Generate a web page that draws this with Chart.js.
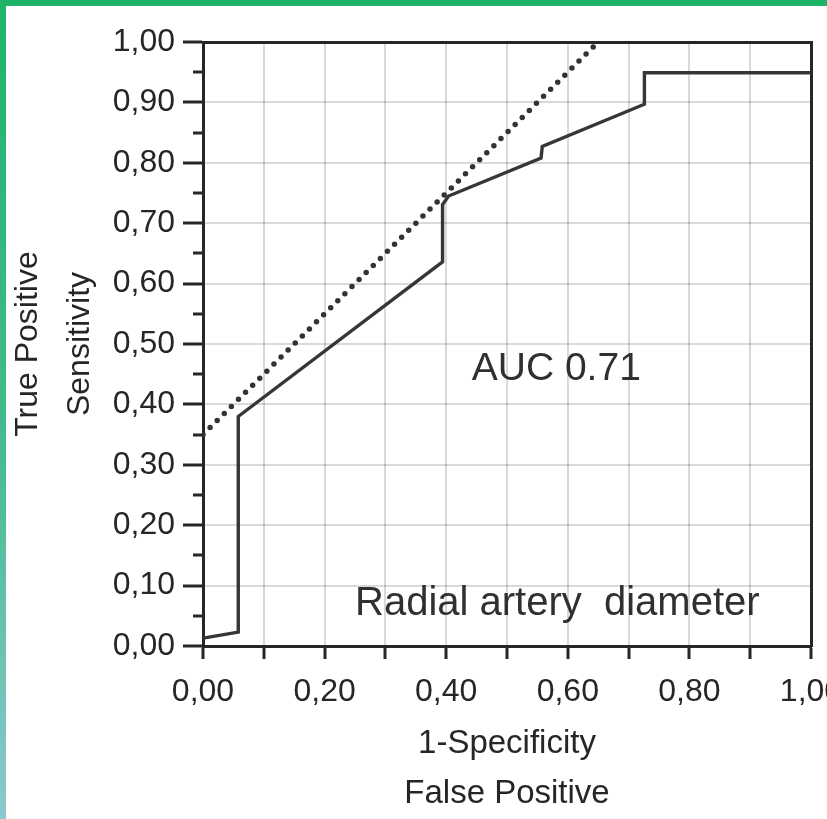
<!DOCTYPE html>
<html>
<head>
<meta charset="utf-8">
<title>ROC - Radial artery diameter</title>
<script src="https://cdn.jsdelivr.net/npm/chart.js@4.4.1/dist/chart.umd.min.js"></script>
<style>
    html, body { margin: 0; padding: 0; background: #fff; overflow: hidden; width: 827px; height: 819px; }
    #wrap { position: relative; width: 827px; height: 819px; overflow: hidden; }
    #chart { position: absolute; left: 0; top: 0; }
    .rand-oben { position: absolute; left: 0; top: 0; width: 827px; height: 6px; background: #1db46a; }
    .rand-links { position: absolute; left: 0; top: 0; width: 6px; height: 819px;
                  background: linear-gradient(#1db46a, #45bb90 55%, #8dc8d0); }
</style>
</head>
<body>
<div id="wrap">
    <canvas id="chart" width="842" height="819"></canvas>
    <div class="rand-oben"></div>
    <div class="rand-links"></div>
</div>
<script>
// --- Daten ---
const rocX = [0, 0.058, 0.058, 0.394, 0.394, 0.404, 0.556, 0.558, 0.726, 0.726, 1.0];
const rocY = [0.013, 0.023, 0.38, 0.636, 0.731, 0.745, 0.808, 0.827, 0.897, 0.949, 0.949];
const refX = [0, 0.65];
const refY = [0.35, 1.0];
const xTitle = ['1-Specificity', 'False Positive'];
const yTitle = ['True Positive', 'Sensitivity'];
const noteTexts = ['AUC 0.71', 'Radial artery  diameter'];

// --- Stil ---
const FONT = '"Liberation Sans", Arial, Helvetica, sans-serif';
const INK = '#262626';
const GRID = 'rgba(0, 0, 0, 0.15)';
const CANVAS_W = 842;
const CANVAS_H = 819;

// --- Hilfsfunktionen ---
function toPoints(xs, ys) {
    const pts = [];
    for (let i = 0; i < xs.length; i++) {
        pts.push({ x: xs[i], y: ys[i] });
    }
    return pts;
}

function isMinorY(value) {
    return Math.round(value * 100) % 10 !== 0;
}

function fmt(value) {
    return value.toFixed(2).replace('.', ',');
}

// --- Texte im Diagramm ---
const notePos = [
    { x: 0.442, y: 0.44, size: 39 },
    { x: 0.25, y: 0.051, size: 40 }
];

const notesPlugin = {
    id: 'notes',
    afterDatasetsDraw(chart) {
        const ctx = chart.ctx;
        const sx = chart.scales.x;
        const sy = chart.scales.y;
        ctx.save();
        ctx.fillStyle = '#303030';
        ctx.textBaseline = 'alphabetic';
        ctx.textAlign = 'left';
        for (let i = 0; i < noteTexts.length; i++) {
            const p = notePos[i];
            ctx.font = p.size + 'px ' + FONT;
            ctx.fillText(noteTexts[i], sx.getPixelForValue(p.x), sy.getPixelForValue(p.y));
        }
        ctx.restore();
    }
};

// --- Chart aufbauen ---
new Chart(document.getElementById('chart').getContext('2d'), {
    type: 'scatter',
    data: {
        datasets: [
            {
                data: toPoints(refX, refY),
                showLine: true,
                borderColor: '#333',
                borderWidth: 5.5,
                borderDash: [0, 10],
                borderCapStyle: 'round',
                pointRadius: 0,
                fill: false
            },
            {
                data: toPoints(rocX, rocY),
                showLine: true,
                borderColor: '#363636',
                borderWidth: 3.4,
                borderJoinStyle: 'miter',
                pointRadius: 0,
                tension: 0,
                fill: false
            }
        ]
    },
    options: {
        responsive: false,
        devicePixelRatio: 1,
        animation: false,
        layout: { padding: { top: 42, right: 0, bottom: 0, left: 0 } },
        plugins: {
            legend: { display: false },
            tooltip: { enabled: false }
        },
        scales: {
            x: {
                type: 'linear',
                min: 0,
                max: 1,
                ticks: {
                    stepSize: 0.1,
                    autoSkip: false,
                    maxRotation: 0,
                    padding: 14,
                    color: INK,
                    font: { family: FONT, size: 32 },
                    callback: function(value) {
                        if (Math.round(value * 100) % 20 !== 0) return '';
                        return fmt(value);
                    }
                },
                grid: {
                    color: GRID,
                    lineWidth: 2,
                    tickLength: 13,
                    tickColor: INK,
                    tickWidth: 3
                },
                border: { color: INK, width: 3 },
                title: {
                    display: true,
                    text: xTitle,
                    color: INK,
                    font: { family: FONT, size: 33, lineHeight: 1.52 },
                    padding: { top: 0, bottom: 0 }
                },
                afterFit: function(scale) {
                    scale.height = CANVAS_H - 646;
                    scale.paddingLeft = 0;
                    scale.paddingRight = CANVAS_W - 811;
                }
            },
            y: {
                type: 'linear',
                min: 0,
                max: 1,
                ticks: {
                    stepSize: 0.05,
                    autoSkip: false,
                    padding: 8,
                    color: INK,
                    font: { family: FONT, size: 32 },
                    callback: function(value) {
                        if (isMinorY(value)) return '';
                        return fmt(value);
                    }
                },
                grid: {
                    color: function(c) {
                        return (c.tick && isMinorY(c.tick.value)) ? 'rgba(0,0,0,0)' : GRID;
                    },
                    lineWidth: 2,
                    tickLength: 20,
                    tickColor: INK,
                    tickWidth: 3,
                    tickBorderDash: function(c) {
                        return (c.tick && isMinorY(c.tick.value)) ? [0, 10, 40] : [];
                    }
                },
                border: { color: INK, width: 3 },
                title: {
                    display: true,
                    text: yTitle,
                    color: INK,
                    font: { family: FONT, size: 32, lineHeight: 1.62 },
                    padding: { top: 2, bottom: 0 }
                },
                afterFit: function(scale) {
                    scale.width = 203;
                }
            },
            x2: {
                type: 'linear',
                position: 'top',
                min: 0,
                max: 1,
                ticks: { display: false },
                grid: { drawOnChartArea: false, drawTicks: false },
                border: { color: INK, width: 3 }
            },
            y2: {
                type: 'linear',
                position: 'right',
                min: 0,
                max: 1,
                ticks: { display: false },
                grid: { drawOnChartArea: false, drawTicks: false },
                border: { color: INK, width: 3 }
            }
        }
    },
    plugins: [notesPlugin]
});
</script>
</body>
</html>
